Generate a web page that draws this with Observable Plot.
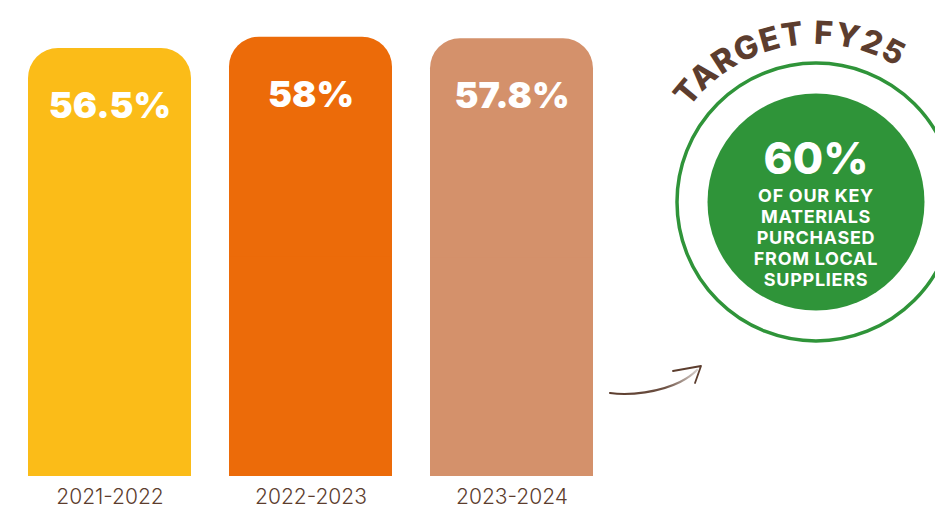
<!DOCTYPE html>
<html>
<head>
<meta charset="utf-8">
<script src="https://cdn.jsdelivr.net/npm/d3@7"></script>
<script src="https://cdn.jsdelivr.net/npm/@observablehq/plot@0.6"></script>
<style>
  html, body { margin: 0; padding: 0; background: #ffffff; }
  #chart svg { display: block; }
</style>
</head>
<body>
<div id="chart"></div>
<script>
// Share of key materials purchased from local suppliers, by financial year
const years = ["2021-2022", "2022-2023", "2023-2024"];
const shares = [56.5, 58, 57.8];
const barColors = ["#FBBC18", "#EC6B09", "#D4916B"];

// FY25 target badge
const targetTitle = "TARGET FY25";
const targetValue = 60;
const targetLines = ["OF OUR KEY", "MATERIALS", "PURCHASED", "FROM LOCAL", "SUPPLIERS"];

const brown = "#5C3D2E";
const green = "#2F9439";

const data = years.map((year, i) => ({year, share: shares[i]}));

// Target badge, curved heading and pointer arrow, drawn in the plot's own SVG
function targetBadge(index, scales, values, dimensions) {
  const cx = 816, cy = 202;
  const g = d3.create("svg:g");

  // pointer arrow from the bars towards the badge
  const arrow = g.append("g")
    .attr("fill", "none")
    .attr("stroke", brown)
    .attr("stroke-linecap", "round")
    .attr("stroke-linejoin", "round");
  const grad = g.append("defs").append("linearGradient")
    .attr("id", "arrowFade").attr("gradientUnits", "userSpaceOnUse")
    .attr("x1", 610).attr("y1", 393).attr("x2", 697).attr("y2", 370);
  grad.append("stop").attr("offset", 0).attr("stop-color", brown).attr("stop-opacity", 1);
  grad.append("stop").attr("offset", 0.6).attr("stop-color", brown).attr("stop-opacity", 0.9);
  grad.append("stop").attr("offset", 1).attr("stop-color", brown).attr("stop-opacity", 0.25);
  arrow.append("path")
    .attr("d", "M610,393 C630,396 660,392 680,382 C688,378 693,374 697,370")
    .attr("stroke", "url(#arrowFade)")
    .attr("stroke-width", 2.2);
  arrow.append("path")
    .attr("d", "M673,371 L701,366 L695,383")
    .attr("stroke-width", 1.8);

  // outer ring and filled disc
  g.append("circle").attr("cx", cx).attr("cy", cy).attr("r", 139)
    .attr("fill", "none").attr("stroke", green).attr("stroke-width", 3.5);
  g.append("circle").attr("cx", cx).attr("cy", cy).attr("r", 108.5)
    .attr("fill", green);

  // curved heading above the ring
  const r = 158, a0 = -101 * Math.PI / 180, a1 = 79 * Math.PI / 180;
  const px = a => cx + r * Math.sin(a), py = a => cy - r * Math.cos(a);
  g.append("defs").append("path")
    .attr("id", "titleArc")
    .attr("d", `M${px(a0)},${py(a0)} A${r},${r} 0 0 1 ${px(a1)},${py(a1)}`);
  g.append("text")
    .attr("fill", brown)
    .attr("font-family", "Inter, 'Open Sans', sans-serif")
    .attr("font-weight", 800)
    .attr("font-size", 32)
    .attr("letter-spacing", 1.2)
    .append("textPath")
    .attr("href", "#titleArc")
    .attr("startOffset", "50%")
    .attr("text-anchor", "middle")
    .text(targetTitle);

  // badge text
  g.append("text")
    .attr("x", cx).attr("y", 159)
    .attr("dy", "0.35em")
    .attr("text-anchor", "middle")
    .attr("fill", "white")
    .attr("font-family", "Inter, 'Open Sans', sans-serif")
    .attr("font-weight", 800)
    .attr("font-size", 44)
    .text(`${targetValue}%`);
  const lines = g.append("text")
    .attr("text-anchor", "middle")
    .attr("fill", "white")
    .attr("font-family", "Inter, 'Open Sans', sans-serif")
    .attr("font-weight", 700)
    .attr("font-size", 18)
    .attr("letter-spacing", 0.7);
  targetLines.forEach((line, i) => {
    lines.append("tspan").attr("x", cx).attr("y", 196 + i * 21).attr("dy", "0.35em").text(line);
  });
  return g.node();
}

const chart = Plot.plot({
  width: 935,
  height: 509,
  marginTop: 21.5,
  marginBottom: 33,
  marginLeft: 18,
  marginRight: 332,
  style: {background: "#ffffff", fontFamily: "Inter, 'Open Sans', sans-serif", color: brown},
  x: {domain: years, paddingInner: 0.19, paddingOuter: 0.05, label: null},
  y: {domain: [0, 60], axis: null},
  color: {domain: years, range: barColors},
  marks: [
    // bars with rounded tops; a second bar over the lower half squares off the base
    Plot.barY(data, {x: "year", y: "share", fill: "year", rx: 30}),
    Plot.barY(data, {x: "year", y1: 0, y2: d => d.share / 2, fill: "year"}),
    Plot.text(data, {
      x: "year", y: "share", dy: 58,
      text: d => `${d.share}%`,
      fill: "white", fontSize: 36, fontWeight: 900
    }),
    Plot.axisX({tickSize: 0, tickPadding: 13, fontSize: 21, fontWeight: 300, color: brown, style: {letterSpacing: "-0.4px"}}),
    targetBadge
  ]
});

document.getElementById("chart").append(chart);
</script>
</body>
</html>
